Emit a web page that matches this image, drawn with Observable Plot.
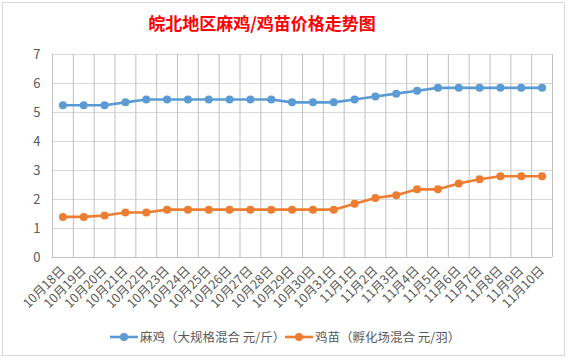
<!DOCTYPE html>
<html><head><meta charset="utf-8">
<script src="https://cdn.jsdelivr.net/npm/d3@7"></script>
<script src="https://cdn.jsdelivr.net/npm/@observablehq/plot@0.6"></script>
<style>
body{margin:0;background:#fff;font-family:"Noto Sans CJK SC","Noto Sans",sans-serif;}
#wrap{position:relative;width:570px;height:362px;overflow:hidden;}
#frame{position:absolute;left:2px;top:2px;width:563px;height:354px;border:1px solid #D9D9D9;box-sizing:border-box;}
#title{position:absolute;left:0;top:11px;width:524px;text-align:center;color:#FF0000;font-weight:bold;font-size:17px;line-height:24px;}
#chart{position:absolute;left:0;top:40px;}
#legend{position:absolute;left:0;top:327px;width:570px;height:20px;font-size:12.5px;color:#595959;}
.item{position:absolute;top:0;height:20px;line-height:20px;white-space:nowrap;}
</style></head>
<body><div id="wrap"><div id="frame"></div>
<div id="title">皖北地区麻鸡/鸡苗价格走势图</div>
<div id="chart"></div>
<div id="legend"></div></div>
<script>
const dates = ["10月18日","10月19日","10月20日","10月21日","10月22日","10月23日","10月24日","10月25日","10月26日","10月27日","10月28日","10月29日","10月30日","10月31日","11月1日","11月2日","11月3日","11月4日","11月5日","11月6日","11月7日","11月8日","11月9日","11月10日"];
const maji = [5.25,5.25,5.25,5.35,5.45,5.45,5.45,5.45,5.45,5.45,5.45,5.35,5.35,5.35,5.45,5.55,5.65,5.75,5.85,5.85,5.85,5.85,5.85,5.85];
const jimiao = [1.4,1.4,1.45,1.55,1.55,1.65,1.65,1.65,1.65,1.65,1.65,1.65,1.65,1.65,1.85,2.05,2.15,2.35,2.35,2.55,2.7,2.8,2.8,2.8];
const seriesNames = ["麻鸡（大规格混合 元/斤）","鸡苗（孵化场混合 元/羽）"];
const colors = ["#5B9BD5","#ED7D31"];
const yTicks = [0,1,2,3,4,5,6,7];

const rows = [];
dates.forEach((d,i)=>{rows.push({i,v:maji[i],s:seriesNames[0]});rows.push({i,v:jimiao[i],s:seriesNames[1]});});
const bounds = d3.range(dates.length+1).map(k=>k-0.5);

const plot = Plot.plot({
  width:570, height:280,
  marginLeft:52, marginRight:18, marginTop:14, marginBottom:63,
  style:{fontFamily:'"Noto Sans CJK SC","Noto Sans",sans-serif', color:"#595959", background:"transparent"},
  x:{type:"linear", domain:[-0.5,dates.length-0.5], label:null},
  y:{domain:[0,7], label:null},
  color:{domain:seriesNames, range:colors},
  marks:[
    Plot.ruleY(yTicks.filter(t=>t>0),{stroke:"#D9D9D9",strokeWidth:1}),
    Plot.ruleY([0],{stroke:"#BFBFBF",strokeWidth:1}),
    Plot.tickX(bounds,{x:d=>d, y1:0, y2:-0.14, stroke:"#BFBFBF", strokeWidth:1}),
    Plot.axisY({ticks:yTicks, tickFormat:"d", tickSize:0, tickPadding:12, fontSize:13, fill:"#595959", label:null}),
    Plot.axisX({ticks:d3.range(dates.length), tickFormat:i=>dates[i], tickSize:0, tickRotate:-45, tickPadding:11, fontSize:12.5, fill:"#595959", label:null}),
    Plot.line(rows,{x:"i",y:"v",z:"s",stroke:"s",strokeWidth:2.6}),
    Plot.dot(rows,{x:"i",y:"v",fill:"s",r:4,stroke:"none"})
  ]
});
document.getElementById("chart").appendChild(plot);

const legend = document.getElementById("legend");
const lx = [110, 285];
seriesNames.forEach((n,k)=>{
  const it = document.createElement("div");
  it.className="item"; it.style.left=lx[k]+"px";
  it.innerHTML = `<svg width="30" height="20" style="vertical-align:top"><line x1="0" x2="28" y1="10" y2="10" stroke="${colors[k]}" stroke-width="2.6"/><circle cx="14" cy="10" r="4" fill="${colors[k]}"/></svg><span style="vertical-align:top">${n}</span>`;
  legend.appendChild(it);
});
</script></body></html>
